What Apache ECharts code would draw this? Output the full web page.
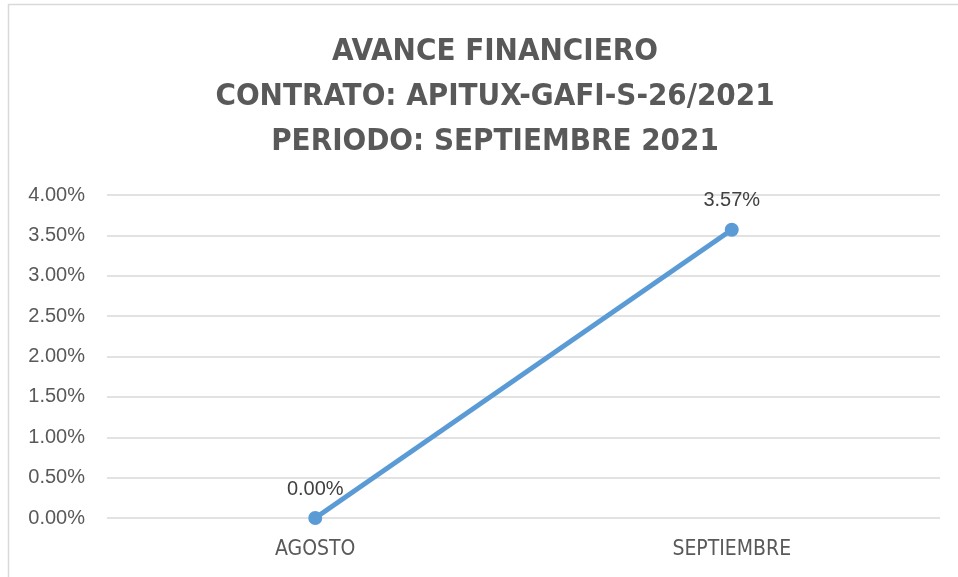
<!DOCTYPE html>
<html>
<head>
<meta charset="utf-8">
<script src="https://cdn.jsdelivr.net/npm/echarts@6/dist/echarts.min.js"></script>
<style>
  html, body { margin: 0; padding: 0; background: #fff; }
  #chart { width: 958px; height: 577px; }
</style>
</head>
<body>
<div id="chart"></div>
<script>
// datos del grafico
var meses = ['AGOSTO', 'SEPTIEMBRE'];
var avance = [0, 0.0357];
var tituloLineas = ['AVANCE FINANCIERO', 'CONTRATO: APITUX-GAFI-S-26/2021', 'PERIODO: SEPTIEMBRE 2021'];

var fuente = "'DejaVu Sans Condensed', 'Liberation Sans', sans-serif";

var chart = echarts.init(document.getElementById('chart'));

function pct(v) {
    return (v * 100).toFixed(2) + '%';
}

var option = {
    animation: false,
    title: {
        text: tituloLineas.join('\n'),
        left: 490,
        textAlign: 'center',
        top: 24,
        textStyle: {
            fontFamily: fuente,
            fontWeight: 'bold',
            fontSize: 31,
            lineHeight: 45,
            color: '#595959'
        }
    },
    graphic: [{
        type: 'rect',
        shape: { x: 8.5, y: 4.5, width: 1000, height: 700 },
        style: { fill: 'none', stroke: '#d9d9d9', lineWidth: 1.5 },
        silent: true
    }],
    grid: {
        left: 107,
        right: 18,
        top: 195,
        bottom: 59
    },
    xAxis: {
        type: 'category',
        data: meses,
        boundaryGap: true,
        axisLine: { show: false },
        axisTick: { show: false },
        axisLabel: {
            color: '#595959',
            fontFamily: fuente,
            fontSize: 21,
            margin: 21
        }
    },
    yAxis: {
        type: 'value',
        min: 0,
        max: 0.04,
        interval: 0.005,
        axisLine: { show: false },
        axisTick: { show: false },
        splitLine: { lineStyle: { color: '#d9d9d9', width: 1.5 } },
        axisLabel: {
            color: '#595959',
            fontFamily: 'Liberation Sans',
            fontSize: 20,
            margin: 22,
            formatter: pct
        }
    },
    series: [{
        type: 'line',
        data: avance,
        symbol: 'circle',
        symbolSize: 14,
        lineStyle: { color: '#5b9bd5', width: 5 },
        itemStyle: { color: '#5b9bd5' },
        label: {
            show: true,
            position: 'top',
            distance: 12,
            color: '#404040',
            fontFamily: 'Liberation Sans',
            fontSize: 20,
            formatter: function (p) { return pct(p.value); }
        }
    }]
};

chart.setOption(option);
window.addEventListener('resize', function () {
    chart.resize();
});
</script>
</body>
</html>
